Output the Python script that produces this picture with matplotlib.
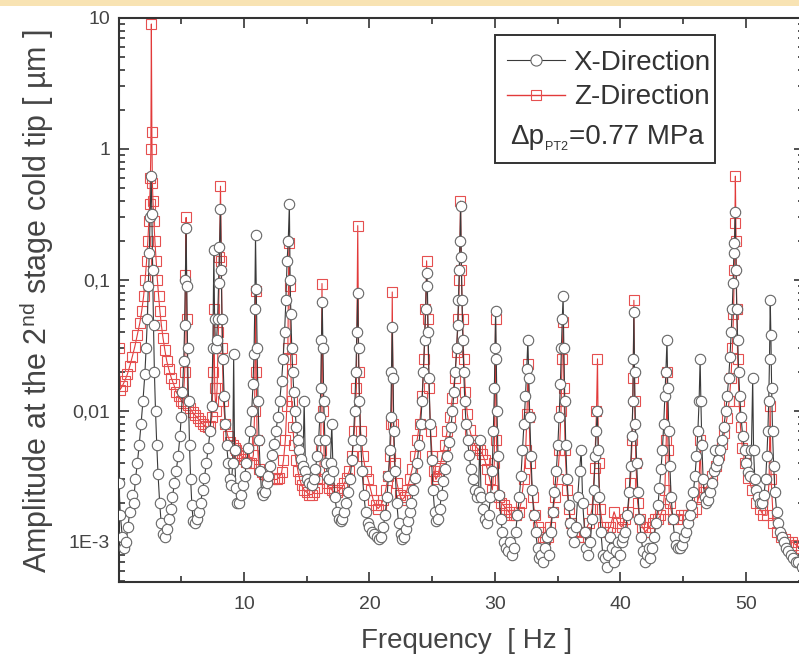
import matplotlib
matplotlib.use("Agg")
import matplotlib.pyplot as plt
from matplotlib.lines import Line2D
from matplotlib.patches import Rectangle
from matplotlib.ticker import FixedLocator, FixedFormatter, LogLocator, NullFormatter, MultipleLocator

plt.rcParams['font.family'] = ['Liberation Sans', 'DejaVu Sans']
plt.rcParams['mathtext.fontset'] = 'custom'
plt.rcParams['mathtext.rm'] = 'Liberation Sans'

# ---------------- data (frequency [Hz], amplitude [um]) ----------------
x_direction = [
    (0.03, 2.8e-3), (0.15, 1.6e-3), (0.3, 1.1e-3), (0.45, 9e-4), (0.6, 1.0e-3), (0.75, 1.3e-3),
    (0.9, 1.7e-3), (1.05, 2.3e-3), (1.2, 2.0e-3), (1.35, 3.0e-3), (1.5, 4.0e-3), (1.65, 5.5e-3),
    (1.8, 8e-3), (1.95, 0.012), (2.1, 0.019), (2.2, 0.03), (2.3, 0.05), (2.38, 0.09), (2.45, 0.16),
    (2.52, 0.3), (2.6, 0.62), (2.66, 0.32), (2.72, 0.12), (2.79, 0.045), (2.86, 0.02), (2.95, 0.01),
    (3.05, 5.5e-3), (3.15, 3.3e-3), (3.28, 2.0e-3), (3.4, 1.4e-3), (3.55, 1.15e-3),
    (3.7, 1.1e-3), (3.85, 1.25e-3), (4.0, 1.5e-3), (4.15, 1.8e-3), (4.3, 2.2e-3), (4.45, 2.8e-3),
    (4.6, 3.5e-3), (4.75, 4.5e-3), (4.9, 6.5e-3), (5.0, 9e-3), (5.1, 0.014), (5.2, 0.024),
    (5.27, 0.045), (5.33, 0.1), (5.39, 0.25), (5.44, 0.09), (5.5, 0.03), (5.58, 0.012),
    (5.66, 5.5e-3), (5.75, 3e-3), (5.85, 1.9e-3), (5.95, 1.45e-3),
    (6.1, 1.4e-3), (6.25, 1.5e-3), (6.4, 1.7e-3), (6.55, 2.0e-3), (6.7, 2.5e-3), (6.85, 3.1e-3),
    (7.0, 4e-3), (7.15, 5.2e-3), (7.3, 7e-3), (7.42, 0.011), (7.52, 0.03), (7.6, 0.17),
    (7.66, 0.05), (7.74, 0.03), (7.82, 0.035), (7.9, 0.05), (7.98, 0.095), (8.05, 0.18),
    (8.13, 0.35), (8.19, 0.12), (8.25, 0.05), (8.33, 0.025), (8.42, 0.013), (8.52, 8e-3),
    (8.62, 5.5e-3), (8.75, 4e-3), (8.88, 3e-3), (9.0, 2.7e-3), (9.1, 4e-3), (9.18, 0.027),
    (9.25, 5e-3), (9.35, 2.6e-3), (9.45, 2.0e-3),
    (9.6, 2.0e-3), (9.75, 2.3e-3), (9.9, 2.7e-3), (10.05, 3.2e-3), (10.2, 4e-3), (10.35, 5.2e-3),
    (10.5, 7e-3), (10.62, 0.01), (10.72, 0.016), (10.8, 0.027), (10.86, 0.06), (10.92, 0.22),
    (10.98, 0.085), (11.05, 0.03), (11.12, 0.012), (11.2, 6e-3), (11.3, 3.5e-3), (11.4, 2.4e-3),
    (11.5, 2.3e-3), (11.65, 2.4e-3), (11.8, 2.8e-3), (11.95, 3.2e-3), (12.1, 3.8e-3),
    (12.25, 4.6e-3), (12.4, 5.6e-3), (12.55, 7e-3), (12.7, 9e-3), (12.85, 0.012), (13.0, 0.017),
    (13.12, 0.025), (13.24, 0.04), (13.34, 0.07), (13.44, 0.14), (13.53, 0.2), (13.62, 0.38),
    (13.68, 0.1), (13.74, 0.055), (13.81, 0.03), (13.89, 0.02), (13.97, 0.014), (14.07, 0.01),
    (14.18, 7.5e-3), (14.3, 6e-3), (14.42, 5e-3), (14.55, 4.3e-3),
    (14.7, 3.8e-3), (14.8, 0.012), (14.9, 3.5e-3), (15.05, 3.0e-3), (15.2, 2.8e-3), (15.4, 2.7e-3),
    (15.55, 3.0e-3), (15.7, 3.6e-3), (15.82, 4.5e-3), (15.95, 6e-3), (16.05, 9e-3), (16.12, 0.015),
    (16.18, 0.035), (16.24, 0.068), (16.3, 0.03), (16.36, 0.012), (16.45, 6e-3), (16.55, 4e-3),
    (16.65, 3.2e-3), (16.78, 3e-3), (16.9, 4e-3), (17.0, 8e-3), (17.1, 3.5e-3), (17.25, 2.2e-3),
    (17.4, 1.7e-3), (17.55, 1.5e-3), (17.7, 1.45e-3),
    (17.85, 1.5e-3), (18.0, 1.7e-3), (18.15, 2.0e-3), (18.3, 2.4e-3), (18.45, 3e-3), (18.6, 4.2e-3),
    (18.72, 6e-3), (18.82, 0.01), (18.92, 0.02), (19.0, 0.04), (19.07, 0.08), (19.13, 0.03),
    (19.2, 0.012), (19.3, 6e-3), (19.42, 3.5e-3), (19.55, 2.3e-3), (19.7, 1.7e-3), (19.85, 1.4e-3),
    (20.0, 1.3e-3), (20.2, 1.2e-3), (20.4, 1.15e-3), (20.6, 1.1e-3), (20.8, 1.05e-3),
    (20.95, 1.1e-3), (21.1, 1.3e-3), (21.25, 1.6e-3), (21.4, 2.2e-3), (21.52, 3.2e-3), (21.62, 5e-3),
    (21.7, 9e-3), (21.76, 0.02), (21.82, 0.044), (21.88, 0.018), (21.95, 7e-3), (22.05, 3.5e-3),
    (22.18, 2e-3), (22.32, 1.4e-3), (22.48, 1.15e-3), (22.62, 1.05e-3),
    (22.75, 1.1e-3), (22.9, 1.25e-3), (23.05, 1.45e-3), (23.2, 1.7e-3), (23.35, 2.0e-3),
    (23.5, 2.5e-3), (23.65, 3.1e-3), (23.8, 4e-3), (23.95, 5.5e-3), (24.08, 8e-3), (24.2, 0.012),
    (24.3, 0.02), (24.4, 0.035), (24.48, 0.06), (24.56, 0.113), (24.62, 0.09), (24.68, 0.04),
    (24.75, 0.018), (24.84, 8e-3), (24.95, 4.2e-3), (25.07, 2.5e-3), (25.2, 1.7e-3), (25.32, 1.45e-3),
    (25.45, 1.5e-3), (25.6, 1.8e-3), (25.75, 2.3e-3), (25.9, 2.9e-3), (26.05, 3.6e-3), (26.2, 4.5e-3),
    (26.35, 5.8e-3), (26.5, 7.5e-3), (26.62, 0.01), (26.74, 0.014), (26.85, 0.02), (26.95, 0.03),
    (27.03, 0.045), (27.1, 0.07), (27.16, 0.12), (27.22, 0.2), (27.27, 0.37), (27.32, 0.15),
    (27.38, 0.07), (27.45, 0.035), (27.52, 0.02), (27.6, 0.012), (27.7, 8e-3), (27.82, 6e-3),
    (27.95, 4.6e-3), (28.1, 3.6e-3), (28.25, 3e-3), (28.4, 2.5e-3), (28.55, 2.2e-3), (28.7, 2.4e-3),
    (28.8, 6e-3), (28.9, 2.2e-3), (29.05, 1.8e-3), (29.2, 1.5e-3), (29.35, 1.4e-3), (29.5, 1.6e-3),
    (29.65, 2.2e-3), (29.78, 3.5e-3), (29.88, 7e-3), (29.96, 0.015), (30.01, 0.03), (30.06, 0.058),
    (30.11, 0.025), (30.17, 0.01), (30.25, 4.5e-3), (30.35, 2.3e-3), (30.47, 1.5e-3),
    (30.6, 1.2e-3), (30.75, 1.0e-3), (30.9, 9e-4), (31.05, 8.5e-4), (31.2, 1.0e-3), (31.35, 8e-4),
    (31.5, 9e-4), (31.65, 1.2e-3), (31.8, 1.6e-3), (31.95, 2.2e-3), (32.08, 3.2e-3), (32.2, 5e-3),
    (32.32, 8e-3), (32.44, 0.013), (32.54, 0.021), (32.63, 0.035), (32.7, 0.018), (32.78, 9e-3),
    (32.88, 4.5e-3), (32.98, 2.5e-3), (33.1, 1.6e-3), (33.25, 1.2e-3), (33.4, 9e-4), (33.55, 7.5e-4),
    (33.7, 8e-4), (33.85, 7e-4), (34.0, 9e-4), (34.15, 1.1e-3), (34.3, 8e-4), (34.45, 1.2e-3),
    (34.6, 1.7e-3), (34.75, 2.4e-3), (34.9, 3.5e-3), (35.02, 5.5e-3), (35.12, 9e-3), (35.22, 0.016),
    (35.3, 0.03), (35.37, 0.05), (35.44, 0.075), (35.5, 0.03), (35.57, 0.012), (35.65, 5.5e-3),
    (35.75, 3e-3), (35.88, 1.9e-3), (36.0, 1.4e-3),
    (36.15, 1.2e-3), (36.3, 1.0e-3), (36.45, 1.3e-3), (36.6, 2.2e-3), (36.75, 3.5e-3), (36.88, 5e-3),
    (37.0, 2e-3), (37.15, 1.2e-3), (37.3, 9e-4), (37.45, 8e-4), (37.6, 1.0e-3), (37.75, 1.5e-3),
    (37.88, 2.5e-3), (38.0, 4.5e-3), (38.08, 7e-3), (38.16, 0.01), (38.24, 5e-3), (38.32, 2.2e-3),
    (38.45, 1.2e-3), (38.6, 8e-4), (38.75, 7.5e-4), (38.9, 6.5e-4), (39.05, 8e-4), (39.2, 1.1e-3),
    (39.35, 9e-4), (39.5, 7e-4), (39.65, 8.5e-4), (39.8, 1.0e-3), (39.95, 8e-4), (40.1, 1.0e-3),
    (40.25, 1.1e-3), (40.4, 1.2e-3), (40.55, 1.6e-3), (40.7, 2.4e-3), (40.82, 3.8e-3),
    (40.92, 6.5e-3), (41.0, 0.012), (41.04, 0.025), (41.08, 0.057), (41.13, 0.02), (41.2, 8e-3),
    (41.3, 4e-3), (41.4, 2.4e-3), (41.52, 1.5e-3), (41.65, 1.1e-3), (41.8, 8.5e-4), (41.95, 7e-4),
    (42.1, 8e-4), (42.25, 9e-4), (42.4, 7.5e-4), (42.55, 9e-4), (42.7, 1.1e-3), (42.85, 1.4e-3),
    (43.0, 1.9e-3), (43.12, 2.6e-3), (43.24, 3.6e-3), (43.35, 5e-3), (43.46, 8e-3), (43.55, 0.013),
    (43.63, 0.02), (43.72, 0.035), (43.78, 0.015), (43.86, 7e-3), (43.95, 3.8e-3), (44.05, 2.2e-3),
    (44.18, 1.5e-3), (44.32, 1.1e-3), (44.47, 9.5e-4), (44.62, 9e-4), (44.77, 9e-4), (44.92, 9.5e-4),
    (45.07, 1.1e-3), (45.22, 1.2e-3), (45.37, 1.4e-3), (45.52, 1.6e-3), (45.67, 1.9e-3),
    (45.82, 2.4e-3), (45.95, 3.2e-3), (46.07, 4.5e-3), (46.18, 7e-3), (46.28, 0.012), (46.36, 0.025),
    (46.42, 0.012), (46.5, 5.5e-3), (46.6, 3e-3), (46.72, 2.2e-3), (46.85, 2.0e-3), (47.0, 2.1e-3),
    (47.15, 2.4e-3), (47.3, 2.8e-3), (47.45, 3.5e-3), (47.55, 5e-3), (47.65, 3.8e-3), (47.8, 4.2e-3),
    (47.95, 5e-3), (48.1, 6e-3), (48.25, 7.5e-3), (48.4, 0.01), (48.52, 0.013), (48.64, 0.018),
    (48.74, 0.026), (48.84, 0.04), (48.92, 0.06), (48.99, 0.095), (49.05, 0.16), (49.1, 0.19),
    (49.16, 0.33), (49.22, 0.12), (49.28, 0.06), (49.35, 0.035), (49.43, 0.02), (49.52, 0.013),
    (49.62, 9e-3), (49.75, 6.5e-3), (49.9, 5e-3), (50.05, 4e-3), (50.2, 3.4e-3), (50.35, 3.2e-3),
    (50.45, 5e-3), (50.55, 0.018), (50.62, 5e-3), (50.72, 3e-3), (50.85, 2.5e-3), (51.0, 2.2e-3),
    (51.15, 2.0e-3), (51.3, 2.0e-3), (51.45, 2.3e-3), (51.58, 3e-3), (51.68, 4.5e-3), (51.76, 7e-3),
    (51.83, 0.012), (51.89, 0.025), (51.95, 0.07), (52.0, 0.038), (52.06, 0.015), (52.13, 7e-3),
    (52.22, 3.8e-3), (52.33, 2.4e-3), (52.46, 1.7e-3), (52.6, 1.4e-3), (52.75, 1.2e-3),
    (52.9, 1.1e-3), (53.05, 1.0e-3), (53.2, 9e-4), (53.4, 8.5e-4), (53.6, 8e-4), (53.8, 7.5e-4),
    (54.0, 7e-4), (54.2, 7e-4), (54.45, 6.5e-4),
]

z_direction = [
    (0.02, 0.03), (0.12, 0.0145), (0.3, 0.0155), (0.5, 0.017), (0.7, 0.019), (0.9, 0.022),
    (1.1, 0.026), (1.3, 0.031), (1.5, 0.038), (1.7, 0.047), (1.85, 0.058), (2.0, 0.075),
    (2.12, 0.1), (2.24, 0.14), (2.34, 0.2), (2.42, 0.28), (2.48, 0.38), (2.54, 0.6), (2.58, 1.0),
    (2.62, 9.0), (2.66, 1.35), (2.7, 0.55), (2.75, 0.4), (2.82, 0.28), (2.9, 0.2), (3.0, 0.14),
    (3.1, 0.1), (3.2, 0.075), (3.3, 0.058), (3.42, 0.045), (3.55, 0.036), (3.7, 0.029),
    (3.85, 0.024), (4.0, 0.021), (4.2, 0.018), (4.4, 0.016), (4.6, 0.014), (4.8, 0.013),
    (5.0, 0.012), (5.15, 0.0115), (5.28, 0.02), (5.34, 0.11), (5.39, 0.3), (5.44, 0.05),
    (5.52, 0.0112), (5.7, 0.0105), (5.9, 0.0098), (6.1, 0.0093), (6.3, 0.0088), (6.5, 0.0084),
    (6.7, 0.008), (6.9, 0.0077), (7.1, 0.0075), (7.3, 0.0077), (7.45, 0.009), (7.54, 0.02),
    (7.6, 0.06), (7.67, 0.015), (7.76, 0.01), (7.86, 0.015), (7.96, 0.04), (8.05, 0.15),
    (8.13, 0.52), (8.2, 0.14), (8.27, 0.03), (8.36, 0.012), (8.5, 0.008), (8.7, 0.0065),
    (8.9, 0.0058), (9.1, 0.0055), (9.25, 0.0052), (9.4, 0.005), (9.55, 0.0048), (9.7, 0.0046),
    (9.85, 0.0045), (10.0, 0.0043), (10.2, 0.0041), (10.4, 0.004), (10.6, 0.004), (10.75, 0.0046),
    (10.85, 0.01), (10.92, 0.083), (10.98, 0.02), (11.05, 0.006), (11.2, 0.0036), (11.4, 0.0034),
    (11.6, 0.0033), (11.8, 0.0032), (12.0, 0.0031), (12.2, 0.003), (12.4, 0.003), (12.6, 0.003),
    (12.8, 0.0031), (13.0, 0.0034), (13.15, 0.0042), (13.3, 0.006), (13.42, 0.011), (13.5, 0.03),
    (13.58, 0.19), (13.65, 0.09), (13.72, 0.025), (13.8, 0.012), (13.9, 0.0075), (14.0, 0.0055),
    (14.15, 0.0042), (14.3, 0.0035), (14.45, 0.003), (14.6, 0.0027), (14.8, 0.0025), (15.0, 0.0024),
    (15.2, 0.0023), (15.4, 0.0023), (15.6, 0.0024), (15.8, 0.0026), (16.0, 0.003), (16.12, 0.005),
    (16.22, 0.094), (16.3, 0.01), (16.42, 0.0035), (16.6, 0.0028), (16.8, 0.0026), (17.0, 0.0025),
    (17.2, 0.0024), (17.4, 0.0024), (17.6, 0.0025), (17.8, 0.0026), (18.0, 0.0028), (18.2, 0.0031),
    (18.4, 0.0035), (18.6, 0.0045), (18.8, 0.007), (18.96, 0.015), (19.07, 0.26), (19.15, 0.02),
    (19.3, 0.007), (19.5, 0.0045), (19.7, 0.0035), (19.9, 0.003), (20.1, 0.0025), (20.3, 0.0021),
    (20.5, 0.0019), (20.7, 0.0018), (20.9, 0.0019), (21.1, 0.0021), (21.3, 0.0025), (21.5, 0.0032),
    (21.65, 0.0045), (21.75, 0.008), (21.82, 0.081), (21.9, 0.008), (22.0, 0.004), (22.2, 0.0028),
    (22.4, 0.0023), (22.6, 0.0021), (22.8, 0.0022), (23.0, 0.0025), (23.2, 0.003), (23.4, 0.0036),
    (23.6, 0.0045), (23.8, 0.006), (24.0, 0.008), (24.2, 0.013), (24.35, 0.025), (24.47, 0.06),
    (24.56, 0.14), (24.64, 0.05), (24.75, 0.015), (24.88, 0.007), (25.0, 0.0045), (25.15, 0.0035),
    (25.3, 0.003), (25.45, 0.0032), (25.6, 0.0037), (25.8, 0.0045), (26.0, 0.0055), (26.2, 0.007),
    (26.4, 0.009), (26.6, 0.0125), (26.8, 0.018), (26.95, 0.028), (27.07, 0.05), (27.17, 0.1),
    (27.26, 0.4), (27.33, 0.12), (27.42, 0.05), (27.52, 0.025), (27.65, 0.014), (27.8, 0.0095),
    (28.0, 0.0072), (28.2, 0.006), (28.4, 0.0055), (28.6, 0.0052), (28.8, 0.005), (29.0, 0.0047),
    (29.2, 0.0042), (29.4, 0.0036), (29.6, 0.003), (29.8, 0.0025), (29.95, 0.004), (30.05, 0.05),
    (30.12, 0.006), (30.3, 0.0022), (30.5, 0.002), (30.7, 0.0019), (30.9, 0.0018), (31.1, 0.0017),
    (31.3, 0.0016), (31.5, 0.0016), (31.7, 0.0016), (31.9, 0.0017), (32.1, 0.002), (32.3, 0.003),
    (32.45, 0.005), (32.56, 0.0095), (32.65, 0.023), (32.73, 0.009), (32.83, 0.004), (33.0, 0.0022),
    (33.2, 0.0016), (33.4, 0.0013), (33.6, 0.0012), (33.8, 0.0011), (34.0, 0.00105), (34.2, 0.0011),
    (34.4, 0.0013), (34.6, 0.0017), (34.8, 0.0022), (35.0, 0.003), (35.15, 0.005), (35.27, 0.01),
    (35.36, 0.025), (35.44, 0.048), (35.51, 0.015), (35.6, 0.005), (35.75, 0.0025), (35.9, 0.0018),
    (36.1, 0.0014), (36.3, 0.0012), (36.6, 0.0011), (36.9, 0.0011), (37.2, 0.0012), (37.5, 0.0014),
    (37.75, 0.0018), (37.95, 0.0037), (38.1, 0.01), (38.18, 0.025), (38.26, 0.004), (38.4, 0.0018),
    (38.6, 0.0013), (38.9, 0.0012), (39.2, 0.0013), (39.5, 0.0017), (39.8, 0.0014), (40.1, 0.0013),
    (40.4, 0.0015), (40.6, 0.0017), (40.8, 0.0028), (40.94, 0.006), (41.02, 0.018), (41.08, 0.07),
    (41.14, 0.012), (41.24, 0.004), (41.38, 0.002), (41.55, 0.0015), (41.75, 0.0013), (42.0, 0.0012),
    (42.3, 0.0013), (42.6, 0.0014), (42.8, 0.0015), (43.0, 0.0015), (43.2, 0.0016), (43.4, 0.0018),
    (43.55, 0.0025), (43.66, 0.006), (43.73, 0.02), (43.8, 0.005), (43.92, 0.002), (44.2, 0.0015),
    (44.5, 0.0015), (44.8, 0.0016), (45.1, 0.0016), (45.4, 0.0016), (45.7, 0.0017), (46.0, 0.0018),
    (46.25, 0.0022), (46.37, 0.006), (46.47, 0.0022), (46.7, 0.0024), (47.0, 0.0028), (47.3, 0.0032),
    (47.6, 0.0038), (47.9, 0.0046), (48.1, 0.0056), (48.3, 0.0068), (48.5, 0.0088), (48.68, 0.012),
    (48.82, 0.018), (48.93, 0.03), (49.02, 0.055), (49.08, 0.12), (49.13, 0.27), (49.17, 0.62),
    (49.22, 0.2), (49.28, 0.06), (49.36, 0.025), (49.46, 0.012), (49.58, 0.0075), (49.73, 0.0052),
    (49.93, 0.004), (50.2, 0.0031), (50.5, 0.0025), (50.8, 0.002), (51.1, 0.0018), (51.4, 0.0016),
    (51.7, 0.0016), (51.86, 0.003), (51.94, 0.011), (52.02, 0.003), (52.2, 0.0014), (52.5, 0.0012),
    (52.8, 0.0011), (53.1, 0.00105), (53.4, 0.001), (53.7, 0.001), (54.0, 0.00095), (54.4, 0.0009),
]

y_tick_values = [1e-3, 1e-2, 1e-1, 1, 10]
y_tick_labels = ["1E-3", "0,01", "0,1", "1", "10"]
x_tick_values = [10, 20, 30, 40, 50]
series_labels = ["X-Direction", "Z-Direction"]
annotation_parts = ["Δp", "PT2", "=0.77 MPa"]

# ---------------- figure ----------------
W, H = 799, 662
fig = plt.figure(figsize=(W / 100, H / 100), dpi=100)
fig.patch.set_facecolor('white')
fig.patches.append(Rectangle((0, 1 - 6 / H), 1, 6 / H, transform=fig.transFigure,
                             facecolor='#f8e3b3', edgecolor='none', zorder=0))

x_left_px, x_right_px = 118.5, 803.5
y_top_px, y_bot_px = 18, 582
ax = fig.add_axes([x_left_px / W, 1 - y_bot_px / H, (x_right_px - x_left_px) / W,
                   (y_bot_px - y_top_px) / H])

xf, xa = zip(*x_direction)
zf, za = zip(*z_direction)

ax.plot(zf, za, color='#e23a3a', lw=0.8, marker='s', ms=6.5, mfc='none',
        mec='#e55050', mew=0.8, zorder=2)
ax.plot(xf, xa, color='#3a3a3a', lw=0.8, marker='o', ms=7.5, mfc='white',
        mec='#666666', mew=0.8, zorder=3)

ax.set_yscale('log')
ax.set_xlim(0, 54.6)
ax.set_ylim(4.95e-4, 10)

ax.yaxis.set_major_locator(FixedLocator(y_tick_values))
ax.yaxis.set_major_formatter(FixedFormatter(y_tick_labels))
ax.yaxis.set_minor_locator(LogLocator(base=10, subs=range(2, 10), numticks=20))
ax.yaxis.set_minor_formatter(NullFormatter())
ax.xaxis.set_major_locator(FixedLocator(x_tick_values))
ax.xaxis.set_minor_locator(MultipleLocator(5))

ax.tick_params(which='both', direction='in', top=True, right=True, colors='#333333',
               labelsize=14, width=1.2)
ax.tick_params(which='major', length=7)
ax.tick_params(which='minor', length=4)
ax.tick_params(axis='x', pad=10)
ax.tick_params(axis='y', pad=6)
for lbl in ax.get_xticklabels() + ax.get_yticklabels():
    lbl.set_color('#444444')
for s in ax.spines.values():
    s.set_linewidth(1.5)
    s.set_color('#333333')

fig.text(37 / W, 1 - 301 / H, "Amplitude at the 2$^{\\mathregular{nd}}$ stage cold tip [ µm ]",
         rotation=90, ha='center', va='center', fontsize=22, color='#444444')
fig.text(467 / W, 1 - 641 / H, "Frequency  [ Hz ]", ha='center', va='center',
         fontsize=20, color='#444444')

# legend box
lx0, lx1, ly0, ly1 = 495, 715, 35, 163
fig.patches.append(Rectangle((lx0 / W, 1 - ly1 / H), (lx1 - lx0) / W, (ly1 - ly0) / H,
                             transform=fig.transFigure, facecolor='white',
                             edgecolor='#333333', lw=1.4, zorder=5))
handles = [
    Line2D([], [], color='#3a3a3a', lw=0.8, marker='o', ms=8, mfc='white', mec='#666666', mew=0.8),
    Line2D([], [], color='#e23a3a', lw=1.0, marker='s', ms=7, mfc='none', mec='#e55050', mew=0.8),
]
leg = fig.legend(handles, series_labels, loc='upper left',
                 bbox_to_anchor=(507 / W, 1 - 50 / H), bbox_transform=fig.transFigure,
                 frameon=False, fontsize=20, handlelength=2.1, handletextpad=0.3,
                 labelspacing=0.3, borderpad=0, borderaxespad=0)
leg.set_zorder(6)
for t in leg.get_texts():
    t.set_color('#333333')

# annotation: Δp with a small subscript, then the value
fig.canvas.draw()
renderer = fig.canvas.get_renderer()
base_y = 1 - 144 / H
t1 = fig.text(510 / W, base_y, annotation_parts[0], ha='left', va='baseline', fontsize=20,
              color='#333333', zorder=7)
bb1 = t1.get_window_extent(renderer)
t2 = fig.text((bb1.x1 + 1) / W, base_y - 6 / H, annotation_parts[1], ha='left', va='baseline',
              fontsize=9, color='#333333', zorder=7)
bb2 = t2.get_window_extent(renderer)
fig.text((bb2.x1 + 1) / W, base_y, annotation_parts[2], ha='left', va='baseline', fontsize=20,
         color='#333333', zorder=7)

fig.savefig("out.png", dpi=100)
